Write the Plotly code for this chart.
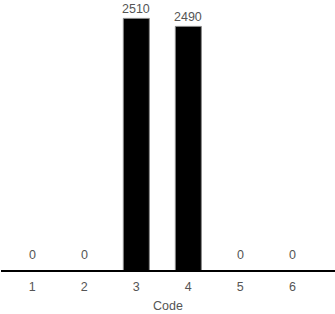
import plotly.graph_objects as go

codes = [1, 2, 3, 4, 5, 6]
counts = [0, 0, 2510, 2490, 0, 0]
tick_labels = ["1", "2", "3", "4", "5", "6"]

y_min, y_max = 1881, 2556
font = dict(family="Arial, Liberation Sans, sans-serif", size=12.5, color="#555")

fig = go.Figure()
fig.add_trace(go.Bar(
    x=codes, y=counts, width=0.5,
    marker=dict(color="black", line=dict(color="#888", width=1)),
    cliponaxis=True,
))

for c, v in zip(codes, counts):
    visible = v >= y_min
    fig.add_annotation(x=c, y=v if visible else y_min, text=str(v), showarrow=False,
                       yanchor="middle", yshift=9.5 if visible else 15, font=font)

fig.update_layout(
    width=335, height=314,
    margin=dict(l=1, r=0, t=0, b=44),
    plot_bgcolor="white", paper_bgcolor="white",
    showlegend=False, font=font,
    xaxis=dict(range=[0.398, 6.82], tickvals=codes, ticktext=tick_labels,
               showgrid=False, zeroline=False, showline=True, linecolor="black",
               linewidth=1.5, ticks="", ticklabelstandoff=4,
               title=dict(text="Code", font=font, standoff=8)),
    yaxis=dict(range=[y_min, y_max], visible=False, showgrid=False),
)
fig.write_html("out.html")
